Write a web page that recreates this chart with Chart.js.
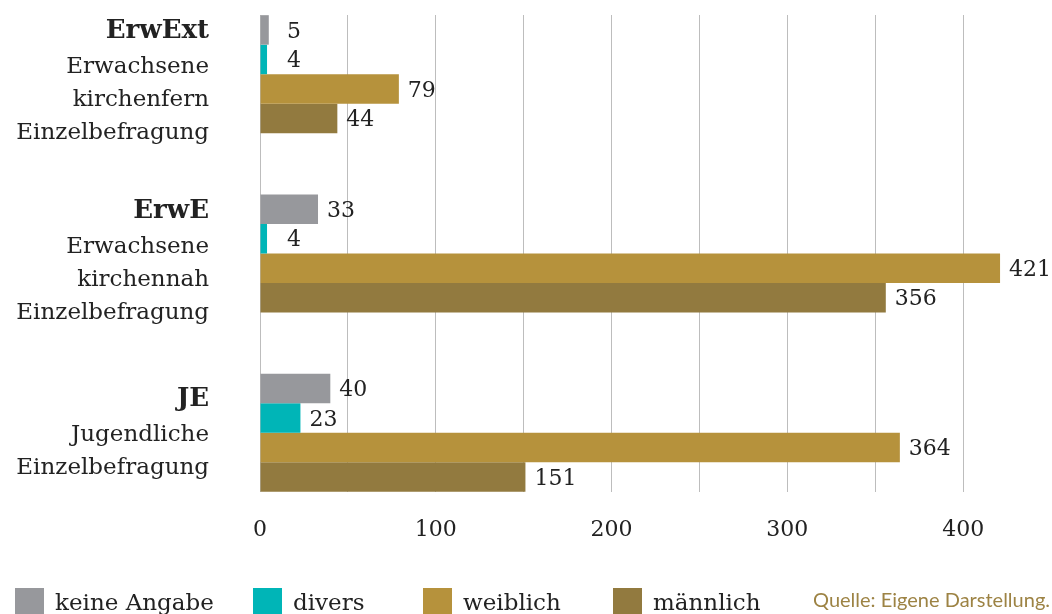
<!DOCTYPE html>
<html>
<head>
<meta charset="utf-8">
<script src="https://cdn.jsdelivr.net/npm/chart.js@4"></script>
<style>
html,body{margin:0;padding:0;background:#fff;overflow:hidden}
#wrap{width:1052px;height:614px;position:relative}
</style>
</head>
<body>
<div id="wrap"><canvas id="c"></canvas></div>
<script>
// ---- data ----
const categories = [
  ["ErwExt", "Erwachsene", "kirchenfern", "Einzelbefragung"],
  ["ErwE", "Erwachsene", "kirchennah", "Einzelbefragung"],
  ["JE", "Jugendliche", "Einzelbefragung"]
];
const seriesNames = ["keine Angabe", "divers", "weiblich", "männlich"];
const keineAngabe = [5, 33, 40];
const divers = [4, 4, 23];
const weiblich = [79, 421, 364];
const maennlich = [44, 356, 151];
const xTickLabels = [0, 100, 200, 300, 400];
const sourceNote = "Quelle: Eigene Darstellung.";

// ---- styles ----
const colors = ["#97989c", "#00b5b7", "#b6923c", "#927a3f"];
const SERIF = "'DejaVu Serif', serif";
const TEXT = "#222222";

const seriesValues = [keineAngabe, divers, weiblich, maennlich];
const datasets = seriesValues.map((vals, s) => ({
  label: seriesNames[s],
  data: vals.map((v, i) => ({ x: v, y: i })),
  backgroundColor: colors[s],
  borderWidth: 0,
  barPercentage: 1,
  categoryPercentage: 0.658
}));

const categoryLabelsPlugin = {
  id: 'categoryLabels',
  afterDraw(chart) {
    const ctx = chart.ctx, ys = chart.scales.y;
    ctx.save();
    ctx.textAlign = 'right';
    ctx.textBaseline = 'alphabetic';
    ctx.fillStyle = TEXT;
    categories.forEach((lines, i) => {
      const c = ys.getPixelForValue(i);
      let y = c + (lines.length === 4 ? -36 : -27);
      lines.forEach((t, k) => {
        ctx.font = (k === 0 ? 'bold 26px ' : '23px ') + SERIF;
        ctx.fillText(t, 209, y);
        y += (k === 0 ? 35 : 33);
      });
    });
    ctx.restore();
  }
};

const valueLabelsPlugin = {
  id: 'valueLabels',
  afterDatasetsDraw(chart) {
    const ctx = chart.ctx;
    const x0 = chart.scales.x.getPixelForValue(0);
    ctx.save();
    ctx.font = '22px ' + SERIF;
    ctx.fillStyle = TEXT;
    ctx.textAlign = 'left';
    ctx.textBaseline = 'middle';
    chart.data.datasets.forEach((ds, di) => {
      const meta = chart.getDatasetMeta(di);
      meta.data.forEach((el, j) => {
        const x = Math.max(el.x + 9, x0 + 27);
        ctx.fillText(String(ds.data[j].x), x, el.y + 2);
      });
    });
    ctx.restore();
  }
};

const legendPlugin = {
  id: 'customLegend',
  afterDraw(chart) {
    const ctx = chart.ctx;
    const legendX = [15, 253, 423, 613];
    ctx.save();
    chart.data.datasets.forEach((ds, i) => {
      const x = legendX[i];
      ctx.fillStyle = ds.backgroundColor;
      ctx.fillRect(x, 588, 29, 28);
      ctx.fillStyle = TEXT;
      ctx.font = '23px ' + SERIF;
      ctx.textAlign = 'left';
      ctx.textBaseline = 'alphabetic';
      ctx.fillText(ds.label, x + 40, 610);
    });
    ctx.font = "20px Lato, 'Open Sans', sans-serif";
    ctx.fillStyle = '#9d8344';
    ctx.textAlign = 'right';
    ctx.fillText(sourceNote, 1050, 607);
    ctx.restore();
  }
};

new Chart(document.getElementById('c'), {
  type: 'bar',
  data: { datasets },
  options: {
    indexAxis: 'y',
    responsive: true,
    maintainAspectRatio: false,
    animation: false,
    layout: { padding: { top: 15, right: 8, bottom: 0, left: 0 } },
    plugins: { legend: { display: false }, tooltip: { enabled: false } },
    scales: {
      x: {
        type: 'linear',
        position: 'bottom',
        min: 0,
        max: 446,
        border: { display: false },
        grid: { color: '#bdbdbd', lineWidth: 1, drawTicks: false },
        ticks: {
          stepSize: 50,
          autoSkip: false,
          maxRotation: 0,
          includeBounds: false,
          padding: 25,
          color: TEXT,
          font: { family: SERIF, size: 22 },
          callback: v => xTickLabels.includes(v) ? String(v) : ''
        },
        afterFit: s => { s.height = 122; }
      },
      y: {
        type: 'linear',
        offset: false,
        min: -0.33,
        max: 2.33,
        reverse: true,
        border: { display: false },
        grid: { display: false, offset: false },
        ticks: { display: false, stepSize: 1, includeBounds: false },
        afterFit: s => { s.width = 260; }
      }
    }
  },
  plugins: [categoryLabelsPlugin, valueLabelsPlugin, legendPlugin]
});
</script>
</body>
</html>
